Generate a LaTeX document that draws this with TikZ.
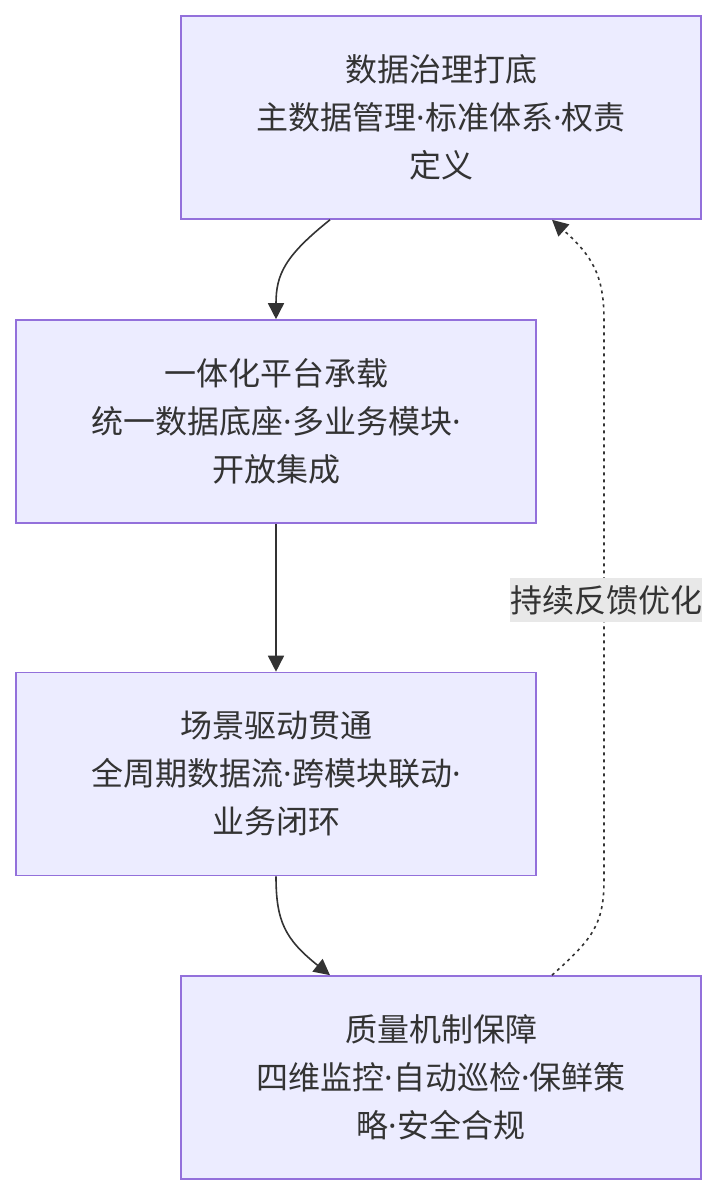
\documentclass[tikz,border=0pt]{standalone}
\usepackage{fontspec}
\setmainfont{Noto Sans CJK SC}
\newfontfamily\latinfont{Noto Sans}
\newcommand{\mdot}{{\latinfont ·}}
\usetikzlibrary{arrows.meta}
\definecolor{boxfill}{HTML}{ECECFF}
\definecolor{boxline}{HTML}{9370DB}
\definecolor{ink}{HTML}{333333}
\definecolor{lblbg}{HTML}{E8E8E8}
\tikzset{
  stepbox/.style={draw=boxline, fill=boxfill, line width=1.6pt, minimum width=520pt, minimum height=203pt,
    inner sep=0pt, align=center, text=ink, font=\fontsize{32}{48}\selectfont},
  flow/.style={draw=ink, line width=1.6pt, -{Triangle[length=16pt,width=16pt]}},
  fb/.style={flow, dash pattern=on 3pt off 4pt},
  lbl/.style={fill=lblbg, text=ink, inner sep=0pt, minimum width=192pt, minimum height=44pt, font=\fontsize{32}{38}\selectfont}
}
\begin{document}
\begin{tikzpicture}[x=1pt,y=-1pt]
\useasboundingbox (0,0) rectangle (718,1196);
\node[stepbox] (b1) at (441,117.5) {数据治理打底\\主数据管理\mdot 标准体系\mdot 权责\\定义};
\node[stepbox] (b2) at (276,421.5) {一体化平台承载\\统一数据底座\mdot 多业务模块\mdot\\开放集成};
\node[stepbox] (b3) at (276,774) {场景驱动贯通\\全周期数据流\mdot 跨模块联动\mdot\\业务闭环};
\node[stepbox] (b4) at (441,1077.5) {质量机制保障\\四维监控\mdot 自动巡检\mdot 保鲜策\\略\mdot 安全合规};
\coordinate (s1) at ([xshift=-111pt]b1.south);
\draw[flow] (s1) .. controls +(-45,36) and +(0,-45) .. (b2.north);
\draw[flow] (b2.south) -- (b3.north);
\coordinate (n4) at ([xshift=-111pt]b4.north);
\draw[flow] (b3.south) .. controls +(0,45) and +(-45,-36) .. (n4);
\coordinate (t4) at ([xshift=111pt]b4.north);
\coordinate (e1) at ([xshift=111pt]b1.south);
\draw[fb] (t4) .. controls +(40,-36) and +(0,45) .. (604,880) -- (604,320) .. controls +(0,-45) and +(40,36) .. (e1);
\node[lbl] (fl) at (606,600) {持续反馈优化};
\end{tikzpicture}
\end{document}
